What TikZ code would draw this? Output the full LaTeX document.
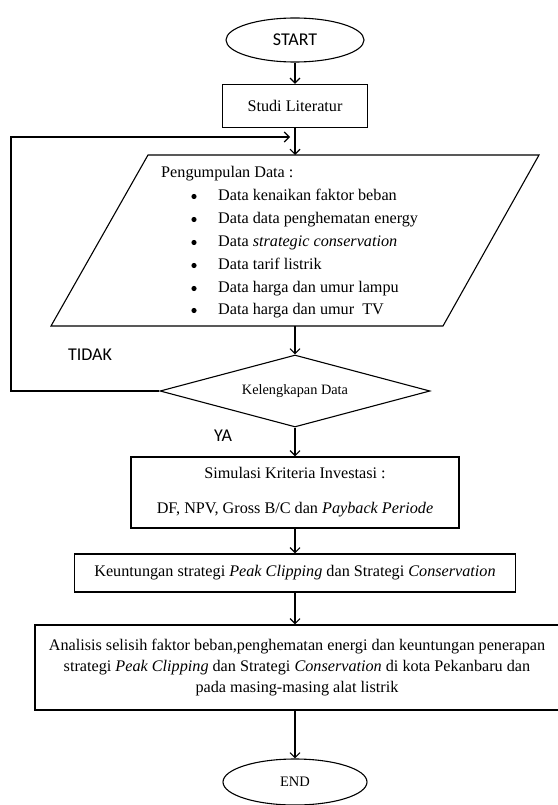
\documentclass[tikz,border=0pt]{standalone}
\usepackage{fontspec}
\setmainfont{Liberation Serif}
\newfontfamily\sansf{Carlito}
\usetikzlibrary{arrows.meta,shapes.geometric}
\newcommand{\mainsz}{\fontsize{16.2}{19.5}\selectfont}
\newcommand{\labsz}{\sansf\fontsize{18}{21}\selectfont}
\begin{document}
\begin{tikzpicture}[x=1pt,y=-1pt,
  box/.style={draw, line width=1.4pt, rectangle, inner sep=0pt, align=center, font=\mainsz},
  term/.style={draw, line width=1.1pt, ellipse, inner sep=0pt},
  thin/.style={line width=1.1pt},
  flow/.style={line width=1.1pt, -{Straight Barb[length=5pt,width=10pt]}},
  txt/.style={inner sep=0pt, anchor=base west, font=\mainsz},
  dot/.style={circle, fill, inner sep=0pt, minimum size=5.2pt},
  lab/.style={inner sep=0pt, font=\labsz}]
\useasboundingbox (0,0) rectangle (557,805);

% terminals and boxes
\node[term, minimum width=138pt, minimum height=44pt, font=\labsz] (start) at (295,40) {START};
\node[box, minimum width=145pt, minimum height=43pt] (studi) at (295,106) {Studi Literatur};

% parallelogram
\coordinate (pTL) at (148,155);
\coordinate (pTR) at (539,155);
\coordinate (pBR) at (443,326);
\coordinate (pBL) at (51,326);
\coordinate (pTop) at (295,155);
\coordinate (pBot) at (295,326);
\draw[thin] (pTL) -- (pTR) -- (pBR) -- (pBL) -- cycle;
\node[txt] (pd) at (161,177.5) {Pengumpulan Data :};
\node[dot] (b1) at (194,196.5) {};
\node[txt] (i1) at (218,200.5) {Data kenaikan faktor beban};
\node[dot] (b2) at (194,219.5) {};
\node[txt] (i2) at (218,223.5) {Data data penghematan energy};
\node[dot] (b3) at (194,242.5) {};
\node[txt] (i3) at (218,246.5) {Data \textit{strategic conservation}};
\node[dot] (b4) at (194,265.5) {};
\node[txt] (i4) at (218,269.5) {Data tarif listrik};
\node[dot] (b5) at (194,288.5) {};
\node[txt] (i5) at (218,292.5) {Data harga dan umur lampu};
\node[dot] (b6) at (194,310.5) {};
\node[txt] (i6) at (218,314.5) {Data harga dan umur\ \ TV};

% decision
\node[draw, thin, diamond, aspect=3.75, minimum width=270pt, minimum height=72pt, inner sep=0pt,
      font=\fontsize{14.3}{17}\selectfont] (dec) at (295,391) {Kelengkapan Data};
\node[lab] (tidak) at (90,355) {TIDAK};
\node[lab] (ya) at (223,436) {YA};

\node[box, minimum width=328pt, minimum height=71pt] (sim) at (295,492.5)
  {Simulasi Kriteria Investasi :\\[15.5pt]DF, NPV, Gross B/C dan \textit{Payback Periode}};
\node[box, minimum width=441pt, minimum height=38pt] (keu) at (295,573)
  {Keuntungan strategi \textit{Peak Clipping} dan Strategi \textit{Conservation}};
\node[box, minimum width=524pt, minimum height=85pt, font=\fontsize{16.2}{21}\selectfont] (ana) at (297,667.5)
  {Analisis selisih faktor beban,penghematan energi dan keuntungan penerapan\\
   strategi \textit{Peak Clipping} dan Strategi \textit{Conservation} di kota Pekanbaru dan\\
   pada masing-masing alat listrik};
\node[term, minimum width=144pt, minimum height=46pt, font=\fontsize{14.5}{17}\selectfont] (end) at (295,782) {END};

% connectors
\draw[flow] (start.south) -- (studi.north);
\draw[flow] (studi.south) -- (pTop);
\draw[flow] (pBot) -- (dec.north);
\draw[flow] (dec.south) -- (sim.north);
\draw[flow] (sim.south) -- (keu.north);
\draw[flow] (keu.south) -- (keu.south |- ana.north);
\draw[flow] (end.north |- ana.south) -- (end.north);

% loop back
\coordinate (lb) at (11,391);
\coordinate (lt) at (11,137);
\coordinate (le) at (290,137);
\draw[flow] (dec.west) -- (lb) -- (lt) -- (le);
\end{tikzpicture}
\end{document}
